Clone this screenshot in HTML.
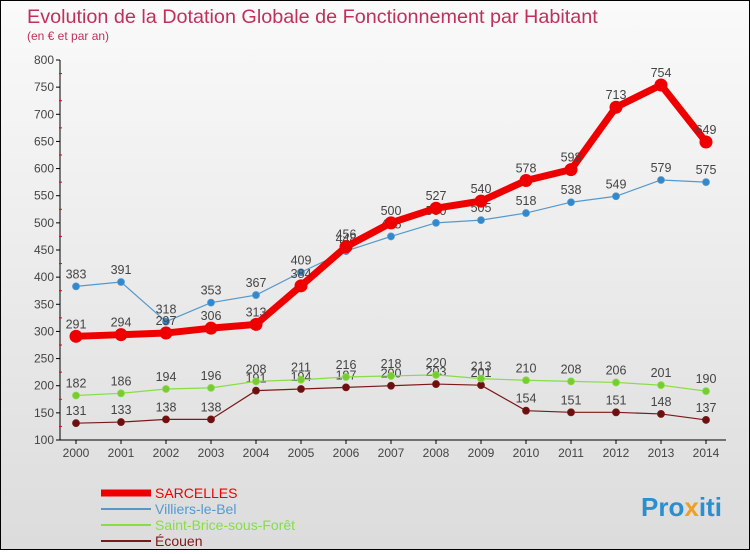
<!DOCTYPE html>
<html><head><meta charset="utf-8"><style>
body{margin:0;width:750px;height:550px;overflow:hidden;font-family:"Liberation Sans",sans-serif}
#wrap{position:relative;width:748px;height:548px;border:1px solid #000;background:linear-gradient(#fafafa,#dcdcdc)}
</style></head><body>
<div id="wrap">
<svg id="chart" width="748" height="548">
<text x="26" y="22" font-size="19.8" fill="#c0305a">Evolution de la Dotation Globale de Fonctionnement par Habitant</text>
<text x="26" y="39" font-size="12" fill="#c0305a">(en € et par an)</text>
<g id="g"></g>
<text x="640" y="515" font-size="26" font-weight="bold" fill="#2a8fd0">Pro<tspan fill="#f0a020">x</tspan>iti</text>
</svg>
</div>
<script>
const years=[2000,2001,2002,2003,2004,2005,2006,2007,2008,2009,2010,2011,2012,2013,2014];
const yTicks=[100,150,200,250,300,350,400,450,500,550,600,650,700,750,800];
const sarcelles=[291,294,297,306,313,384,456,500,527,540,578,598,713,754,649];
const villiers=[383,391,318,353,367,409,448,475,500,505,518,538,549,579,575];
const saintBrice=[182,186,194,196,208,211,216,218,220,213,210,208,206,201,190];
const ecouen=[131,133,138,138,191,194,197,200,203,201,154,151,151,148,137];
const NS="http://www.w3.org/2000/svg";
const g=document.getElementById('g');
function X(i){return 75+i*45;}
function Y(v){return 439-(v-100)*380/700;}
function el(t,a,p){const e=document.createElementNS(NS,t);for(const k in a)e.setAttribute(k,a[k]);(p||g).appendChild(e);return e;}
let ax=el('line',{x1:59,y1:Y(800),x2:59,y2:Y(100),stroke:'#000'});


let axx=el('line',{x1:59,y1:Y(100),x2:725,y2:Y(100),stroke:'#000'});


yTicks.forEach(v=>{
  el('line',{x1:55,y1:Y(v),x2:59,y2:Y(v),stroke:'#000'});
  if(v<800){el('line',{x1:58,y1:Y(v+25),x2:61,y2:Y(v+25),stroke:'#e00'});}
  const t=el('text',{x:53,y:Y(v)+4,'font-size':12,fill:'#444','text-anchor':'end'});
  t.textContent=v;
  
  
});
years.forEach((y,i)=>{
  el('line',{x1:X(i),y1:Y(100),x2:X(i),y2:Y(100)+4,stroke:'#000'});
  const t=el('text',{x:X(i),y:Y(100)+17,'font-size':12,fill:'#444','text-anchor':'middle'});
  t.textContent=y;
  
  
});
function series(data,color,w,r,name,mk){
  const pts=data.map((v,i)=>X(i)+','+Y(v)).join(' ');
  const pl=el('polyline',{points:pts,fill:'none',stroke:color,'stroke-width':w,'stroke-linejoin':'round'});
  
  
  data.forEach((v,i)=>{
    const c=el('circle',{cx:X(i),cy:Y(v),r:r,fill:mk,stroke:color==mk?'none':color,'stroke-width':0.8});
    
    
    const t=el('text',{x:X(i),y:Y(v)-8,'font-size':12.5,fill:'#444','text-anchor':'middle'});
    t.textContent=v;
    
    
  });
}
series(ecouen,'#7a1a1a',1.2,3.5,'ecouen','#6a1010');
series(saintBrice,'#88dd44',1.2,3.5,'saint-brice','#77cc33');
series(villiers,'#5599cc',1.2,3.5,'villiers','#3388cc');
series(sarcelles,'#ee0000',7,6.5,'sarcelles','#ee0000');
const leg=[['SARCELLES','#ee0000',7],['Villiers-le-Bel','#5599cc',2],['Saint-Brice-sous-Forêt','#88dd44',2],['Écouen','#7a1a1a',2]];
leg.forEach((l,i)=>{
  const y=492+i*16;
  const ln=el('line',{x1:100,y1:y,x2:150,y2:y,stroke:l[1],'stroke-width':l[2]});
  
  
  const t=el('text',{x:154,y:y+5,'font-size':14,fill:l[1]});
  t.textContent=l[0];
  
  
});
</script>
</body></html>
